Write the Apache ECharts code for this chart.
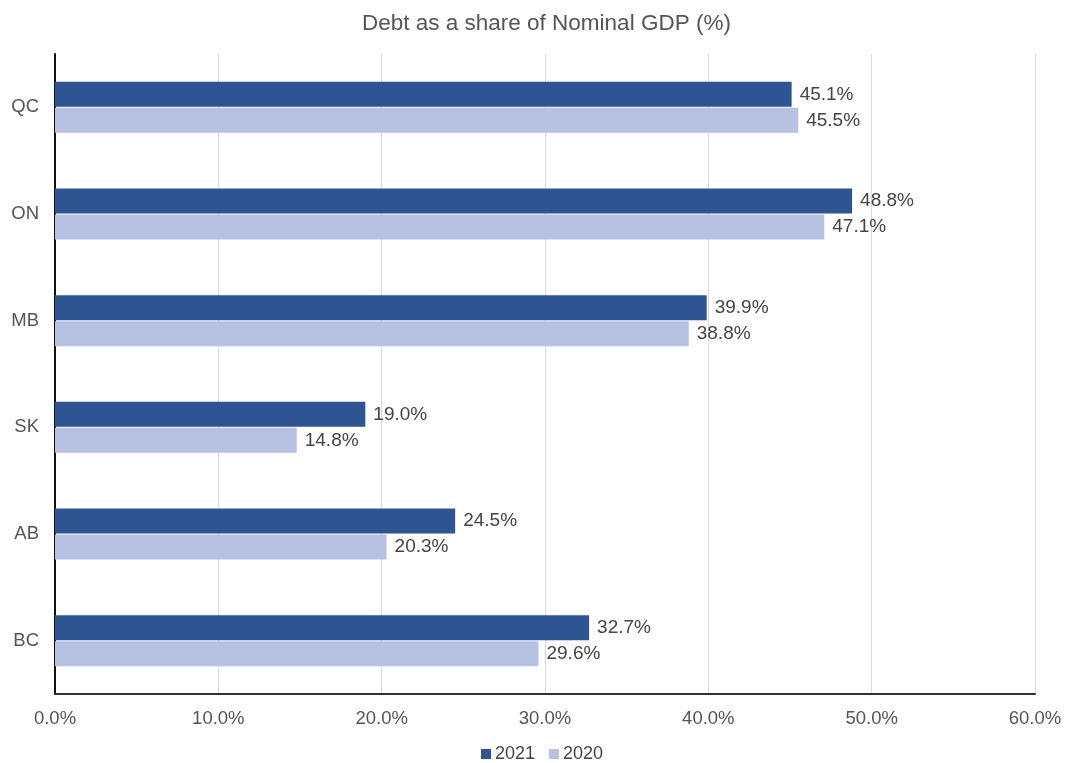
<!DOCTYPE html>
<html>
<head>
<meta charset="utf-8">
<script src="https://cdn.jsdelivr.net/npm/echarts@6/dist/echarts.min.js"></script>
<style>html,body{margin:0;padding:0;background:#fff}#c{width:1065px;height:763px}</style>
</head>
<body>
<div id="c"></div>
<script>
const categories = ['QC', 'ON', 'MB', 'SK', 'AB', 'BC'];
const values2021 = [45.1, 48.8, 39.9, 19.0, 24.5, 32.7];
const values2020 = [45.5, 47.1, 38.8, 14.8, 20.3, 29.6];
const xTicks = [0, 10, 20, 30, 40, 50, 60];

const chart = echarts.init(document.getElementById('c'));
const font = 'Arial, "Liberation Sans", sans-serif';
const labelCfg = {
  show: true, position: 'right', distance: 8, color: '#444', fontSize: 19, fontFamily: font,
  formatter: p => p.value.toFixed(1) + '%'
};
chart.setOption({
  animation: false,
  title: {
    text: 'Debt as a share of Nominal GDP (%)', left: 357, top: 7,
    textStyle: { color: '#555', fontSize: 22.5, fontWeight: 'normal', fontFamily: font }
  },
  legend: {
    data: ['2021', '2020'], top: 740, left: 476, icon: 'rect', itemWidth: 10, itemHeight: 10, itemGap: 14,
    textStyle: { color: '#444', fontSize: 18, fontFamily: font, padding: [0, 0, 0, -1] }
  },
  grid: { left: 55, right: 30, top: 54, bottom: 69 },
  xAxis: {
    type: 'value', min: xTicks[0], max: xTicks[xTicks.length - 1], interval: 10,
    axisLine: { show: true, lineStyle: { color: '#333', width: 2 } },
    axisTick: { show: false },
    splitLine: { show: true, lineStyle: { color: '#d9d9d9' } },
    axisLabel: { color: '#555', fontSize: 18.5, fontFamily: font, margin: 15, formatter: v => v.toFixed(1) + '%' }
  },
  yAxis: {
    type: 'category', data: categories, inverse: true,
    axisLine: { show: true, lineStyle: { color: '#111', width: 2 } },
    axisTick: { show: false },
    axisLabel: { color: '#555', fontSize: 18.5, fontFamily: font, margin: 16 }
  },
  series: [
    { name: '2021', type: 'bar', data: values2021, barWidth: 25, barGap: '4%', itemStyle: { color: '#2e5492' }, label: labelCfg },
    { name: '2020', type: 'bar', data: values2020, barWidth: 25, barGap: '4%', itemStyle: { color: '#b7c2e3' }, label: labelCfg }
  ]
});
</script>
</body>
</html>
